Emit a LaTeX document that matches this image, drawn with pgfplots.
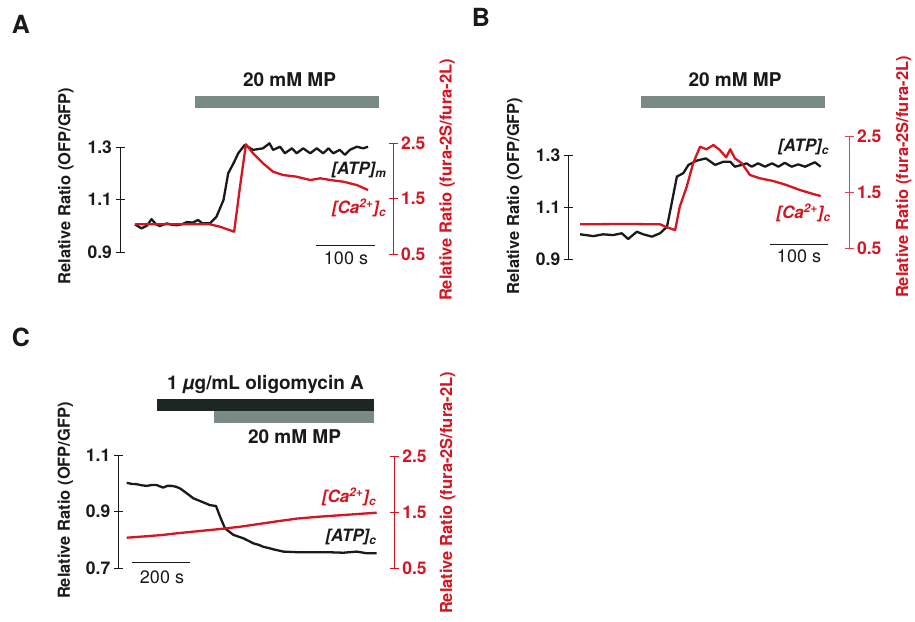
\documentclass[border=0pt]{standalone}
\usepackage{fontspec}
\setmainfont{TeX Gyre Heros}
\usepackage{pgfplots}
\pgfplotsset{compat=1.18}
\definecolor{tred}{HTML}{D7141F}
\definecolor{tink}{HTML}{1A1A1A}
\definecolor{mpgray}{HTML}{7A8A85}
\definecolor{oligo}{HTML}{1E2624}

\newcommand{\tickfont}{\fontsize{17.5}{20}\selectfont\bfseries}
\newcommand{\labfont}{\fontsize{16.5}{19}\selectfont\bfseries}
\newcommand{\barfont}{\fontsize{19}{22}\selectfont\bfseries}
\newcommand{\spfont}{\fontsize{17}{20}\selectfont\bfseries\itshape}

\pgfplotsset{
  trace axis/.style={
    scale only axis, clip=false,
    axis x line=none,
    xtick=\empty,
    major tick length=9pt,
    tick align=center,
    yticklabel style={font=\tickfont},
    every axis plot/.append style={line width=2.3pt, line join=round},
  },
  left trace/.style={trace axis, axis y line*=left,
    axis line style={tink, line width=1pt},
    tick style={tink, line width=1pt},
    yticklabel style={text=tink}},
  right trace/.style={trace axis, axis y line*=right,
    axis line style={tred, line width=1pt},
    tick style={tred, line width=1pt},
    yticklabel style={text=tred}},
}

\begin{document}
\begin{tikzpicture}
\path[use as bounding box] (0,0) rectangle (915pt,-621pt);

% ---------------- panel A
\node[font=\fontsize{25}{28}\selectfont\bfseries, text=tink] at (21pt,-24pt) {A};
\node[font=\barfont, text=tink] at (289.5pt,-79.5pt) {20 mM MP};
\fill[mpgray] (195pt,-96pt) rectangle (379pt,-108pt);

\begin{axis}[left trace, at={(120pt,-252pt)}, anchor=south west,
  width=273pt, height=105pt, xmin=-25.4, xmax=437.3,
  ymin=0.9, ymax=1.3, ytick={0.9,1.1,1.3}, yticklabels={0.9,1.1,1.3}]
\addplot[tink] coordinates {
(0,1.005)(11,0.990)(20,1.000)(28,1.025)(36,1.005)(42,0.999)(54,1.009)(62,1.004)
(71,1.002)(80,1.006)(88,1.014)(98,1.012)(107,1.022)(114,1.009)(127,1.009)(138,1.034)
(150,1.098)(158,1.200)(167,1.238)(175,1.276)(186,1.308)(200,1.289)(217,1.295)(228,1.314)
(234,1.289)(246,1.301)(254,1.276)(266,1.295)(274,1.276)(285,1.295)(297,1.276)(308,1.295)
(319,1.276)(328,1.295)(336,1.276)(347,1.289)(356,1.270)(364,1.289)(376,1.301)(387,1.295)
(395,1.301)};
\end{axis}
\begin{axis}[right trace, at={(120pt,-254pt)}, anchor=south west,
  width=273pt, height=111pt, xmin=-25.4, xmax=437.3,
  ymin=0.5, ymax=2.5, ytick={0.5,1.5,2.5}, yticklabels={0.5,1.5,2.5}]
\addplot[tred] coordinates {
(0,1.035)(127,1.035)(144,0.992)(168,0.902)(178,1.713)(188,2.477)(200,2.314)(217,2.134)
(234,1.983)(251,1.923)(274,1.893)(297,1.833)(314,1.864)(331,1.833)(353,1.803)(376,1.743)
(395,1.653)};
\end{axis}

\node[font=\spfont, text=tink] at (359pt,-170pt) {[ATP]\textsubscript{m}};
\node[font=\spfont, text=tred] at (359pt,-208pt) {[Ca\textsuperscript{2+}]\textsubscript{c}};
\draw[tink, line width=1pt] (316pt,-245pt) -- (375pt,-245pt);
\node[font=\fontsize{18}{20}\selectfont, text=tink] at (346pt,-258pt) {100 s};
\node[rotate=90, font=\labfont, text=tink] at (66pt,-186pt) {Relative Ratio (OFP/GFP)};
\node[rotate=90, font=\labfont, text=tred] at (447pt,-180pt) {Relative Ratio (fura-2S/fura-2L)};

% ---------------- panel B
\node[font=\fontsize{25}{28}\selectfont\bfseries, text=tink] at (481pt,-17pt) {B};
\node[font=\barfont, text=tink] at (735pt,-79.5pt) {20 mM MP};
\fill[mpgray] (641pt,-96pt) rectangle (825pt,-108pt);

\begin{axis}[left trace, at={(568.3pt,-259pt)}, anchor=south west,
  width=280.7pt, height=104pt, xmin=-20.2, xmax=463.8,
  ymin=0.9, ymax=1.3, ytick={0.9,1.1,1.3}, yticklabels={0.9,1.1,1.3}]
\addplot[tink] coordinates {
(0,0.995)(23,0.988)(40,0.995)(57,0.992)(72,0.999)(83,0.977)(98,1.005)(109,0.995)
(124,0.986)(138,0.999)(150,1.024)(158,1.114)(167,1.217)(178,1.230)(187,1.262)(201,1.278)
(217,1.287)(233,1.262)(247,1.274)(259,1.274)(267,1.255)(279,1.262)(287,1.268)(296,1.255)
(307,1.268)(319,1.255)(331,1.268)(342,1.255)(353,1.270)(365,1.255)(376,1.264)(388,1.255)
(405,1.272)(415,1.255)};
\end{axis}
\begin{axis}[right trace, at={(568.3pt,-248.3pt)}, anchor=south west,
  width=280.7pt, height=111.6pt, xmin=-20.2, xmax=463.8,
  axis line style={tred!80, line width=1pt}, tick style={tred!80, line width=1pt},
  ymin=0.5, ymax=2.5, ytick={0.5,1.5,2.5}, yticklabels={0.5,1.5,2.5}]
\addplot[tred] coordinates {
(0,0.930)(80,0.936)(138,0.930)(150,0.876)(164,0.828)(172,1.246)(184,1.604)(195,2.023)
(207,2.321)(218,2.274)(230,2.351)(241,2.262)(252,2.131)(259,2.274)(267,2.113)(279,2.023)
(293,1.814)(310,1.755)(333,1.706)(356,1.634)(379,1.545)(402,1.473)(415,1.437)};
\end{axis}

\node[font=\spfont, text=tink] at (803.5pt,-147pt) {[ATP]\textsubscript{c}};
\node[font=\spfont, text=tred] at (803.5pt,-213pt) {[Ca\textsuperscript{2+}]\textsubscript{c}};
\draw[tink, line width=1pt] (770pt,-244.3pt) -- (828pt,-244.3pt);
\node[font=\fontsize{18}{20}\selectfont, text=tink] at (799pt,-256pt) {100 s};
\node[rotate=90, font=\labfont, text=tink] at (514.5pt,-196pt) {Relative Ratio (OFP/GFP)};
\node[rotate=90, font=\labfont, text=tred] at (903.5pt,-177pt) {Relative Ratio (fura-2S/fura-2L)};

% ---------------- panel C
\node[font=\fontsize{25}{28}\selectfont\bfseries, text=tink] at (21pt,-337.5pt) {C};
\node[font=\barfont, text=tink] at (265.5pt,-385pt) {1 \textit{µ}g/mL oligomycin A};
\fill[oligo] (157pt,-399.3pt) rectangle (374pt,-410.7pt);
\fill[mpgray] (214pt,-410.7pt) rectangle (374pt,-422.7pt);
\node[font=\barfont, text=tink] at (294.5pt,-436.7pt) {20 mM MP};

\begin{axis}[left trace, at={(118.3pt,-568.3pt)}, anchor=south west,
  width=276pt, height=113.3pt, xmin=-29, xmax=922.7,
  ymin=0.7, ymax=1.1, ytick={0.7,0.9,1.1}, yticklabels={0.7,0.9,1.1}]
\addplot[tink] coordinates {
(0,1.002)(17,0.998)(34,0.997)(52,0.993)(69,0.991)(86,0.994)(103,0.994)(115,0.989)
(126,0.985)(140,0.991)(155,0.991)(170,0.988)(184,0.982)(207,0.965)(230,0.947)(259,0.935)
(287,0.923)(308,0.920)(322,0.882)(339,0.841)(368,0.818)(402,0.806)(420,0.797)(437,0.788)
(455,0.783)(471,0.776)(488,0.772)(506,0.767)(540,0.759)(586,0.757)(632,0.757)(690,0.757)
(747,0.755)(793,0.759)(828,0.753)(862,0.753)};
\end{axis}
\begin{axis}[right trace, at={(118.3pt,-568.3pt)}, anchor=south west,
  width=276pt, height=112.3pt, xmin=-29, xmax=922.7,
  ymin=0.5, ymax=2.5, ytick={0.5,1.5,2.5}, yticklabels={0.5,1.5,2.5}]
\addplot[tred] coordinates {
(0,1.045)(60,1.068)(120,1.092)(172,1.123)(240,1.158)(322,1.200)(390,1.240)(450,1.285)
(520,1.338)(586,1.385)(660,1.418)(747,1.449)(810,1.472)(862,1.490)};
\end{axis}

\node[font=\spfont, text=tred] at (349pt,-497pt) {[Ca\textsuperscript{2+}]\textsubscript{c}};
\node[font=\spfont, text=tink] at (351pt,-537pt) {[ATP]\textsubscript{c}};
\draw[tink, line width=1pt] (132pt,-562.3pt) -- (190pt,-562.3pt);
\node[font=\fontsize{18}{20}\selectfont, text=tink] at (162pt,-577pt) {200 s};
\node[rotate=90, font=\labfont, text=tink] at (65.5pt,-500.5pt) {Relative Ratio (OFP/GFP)};
\node[rotate=90, font=\labfont, text=tred] at (447.5pt,-493pt) {Relative Ratio (fura-2S/fura-2L)};
\end{tikzpicture}
\end{document}
